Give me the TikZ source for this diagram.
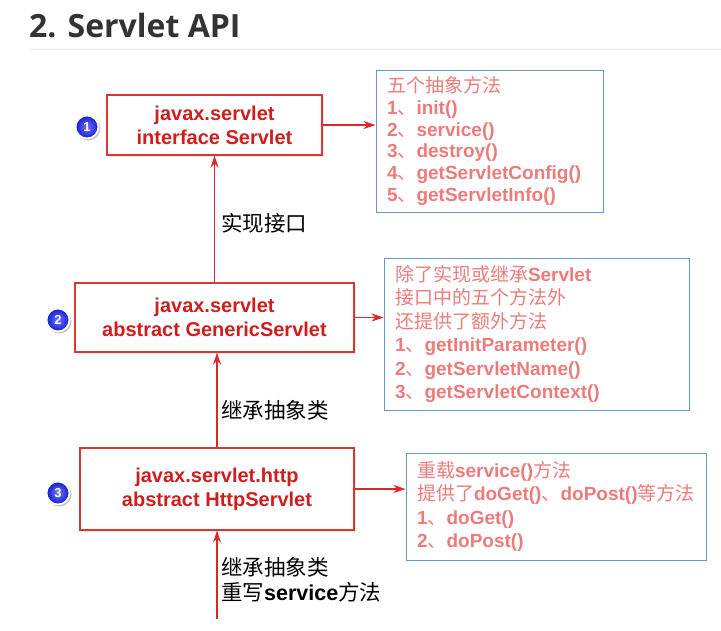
\documentclass[tikz,border=0pt]{standalone}
\usepackage{fontspec}
\setmainfont{Liberation Sans}
\newfontfamily\cjk{Noto Sans CJK SC}
\newfontfamily\titlefont{Open Sans}
\usetikzlibrary{arrows.meta,positioning,shadows}
\definecolor{boxred}{RGB}{214,56,56}
\definecolor{textred}{RGB}{206,30,30}
\definecolor{arrowred}{RGB}{222,40,40}
\definecolor{noteblue}{RGB}{100,150,208}
\definecolor{notepink}{RGB}{236,124,124}
\definecolor{titlegray}{RGB}{51,51,51}
\definecolor{badgeblue}{RGB}{16,30,200}
\newcommand{\zh}[1]{{\cjk\mdseries #1}}

\begin{document}
\begin{tikzpicture}[
    x=1pt, y=-1pt,
    cls/.style={rectangle, draw=boxred, line width=1.1pt, fill=white,
                font=\bfseries\fontsize{20}{24}\selectfont, text=textred,
                align=center, inner sep=0pt,
                drop shadow={opacity=0.2, shadow xshift=1.5pt, shadow yshift=-1.5pt}},
    note/.style={rectangle, draw=noteblue, line width=1pt, fill=white,
                 font=\bfseries\fontsize{19}{21.7}\selectfont, text=notepink,
                 align=left, inner xsep=11pt, inner ysep=0pt,
                 drop shadow={opacity=0.12, shadow xshift=1pt, shadow yshift=-1pt}},
    badge/.style={circle, inner color=blue!55!white, outer color=badgeblue,
                  draw=white, line width=1.8pt,
                  text=white, font=\bfseries\fontsize{13}{13}\selectfont,
                  minimum size=23pt, inner sep=0pt,
                  drop shadow={opacity=0.5, fill=gray, shadow xshift=1.2pt, shadow yshift=-1.2pt, shadow scale=1.06}},
    lbl/.style={anchor=west, align=left, text=black, inner sep=0pt,
                font=\cjk\fontsize{21.5}{25}\selectfont},
    arrow/.style={-{Stealth[length=12pt, width=8pt]}, line width=1.2pt, color=arrowred}
]
\useasboundingbox (0,0) rectangle (721,630);

% Title
\node[anchor=base west, inner sep=0pt, text=titlegray,
      font=\titlefont\bfseries\fontsize{32}{36}\selectfont] (title) at (29,37) {2. Servlet API};
\draw[gray!18, line width=1pt] (30,49) -- (721,49);

% Classes
\node[cls, minimum width=215pt, minimum height=60pt] (servlet) at (214.5,125) {javax.servlet\\interface Servlet};
\node[cls, minimum width=279pt, minimum height=69pt] (generic) at (214.5,317.5) {javax.servlet\\abstract GenericServlet};
\node[cls, minimum width=274pt, minimum height=82pt] (http) at (217,489) {javax.servlet.http\\abstract HttpServlet};

% Badges
\node[badge] (b1) at (87,127) {1};
\node[badge] (b2) at (58,320) {2};
\node[badge] (b3) at (58,493) {3};

% Notes
\node[note, text width=205pt, minimum height=142pt] (note1) at (489.5,141) {
\zh{五个抽象方法}\\
1\zh{、}init()\\
2\zh{、}service()\\
3\zh{、}destroy()\\
4\zh{、}getServletConfig()\\
5\zh{、}getServletInfo()};
\node[note, text width=283pt, minimum height=152pt,
      font=\bfseries\fontsize{19}{23.4}\selectfont] (note2) at (536.5,334) {
\zh{除了实现或继承}Servlet\\
\zh{接口中的五个方法外}\\
\zh{还提供了额外方法}\\
1\zh{、}getInitParameter()\\
2\zh{、}getServletName()\\
3\zh{、}getServletContext()};
\node[note, text width=278pt, minimum height=107pt,
      font=\bfseries\fontsize{19}{23.6}\selectfont] (note3) at (556,506.5) {
\zh{重载}service()\zh{方法}\\
\zh{提供了}doGet()\zh{、}doPost()\zh{等方法}\\
1\zh{、}doGet()\\
2\zh{、}doPost()};

% Arrows
\draw[arrow] (servlet.east) -- (servlet.east -| note1.west);
\draw[arrow] (generic.east) -- (generic.east -| note2.west);
\draw[arrow] (http.east) -- (http.east -| note3.west);
\draw[arrow] (generic.north) -- (servlet.south);
\draw[arrow] (http.north) -- (http.north |- generic.south);
\coordinate[below=88pt of http.south] (base);
\draw[arrow] (base) -- (http.south);

% Labels
\node[lbl] (impl) at (221,223) {实现接口};
\node[lbl] (ext1) at (221,410) {继承抽象类};
\node[lbl] (ext2) at (221,579.5) {继承抽象类\\重写{\rmfamily\bfseries service}方法};

\end{tikzpicture}
\end{document}
